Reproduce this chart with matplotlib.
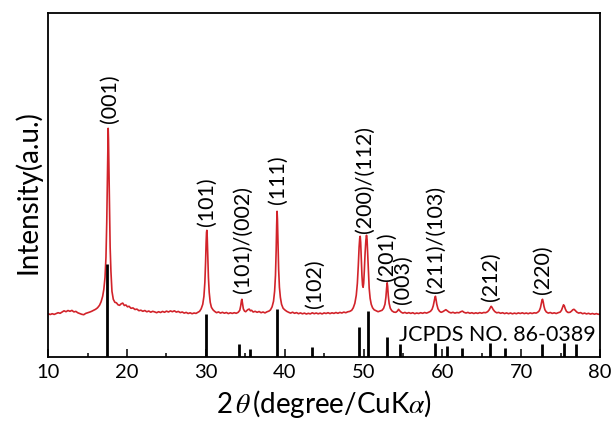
import matplotlib
matplotlib.use("Agg")
import matplotlib.pyplot as plt
from matplotlib.ticker import MultipleLocator

plt.rcParams['font.family'] = ['Lato', 'DejaVu Sans']
plt.rcParams['mathtext.fontset'] = 'stix'

# ---------------- data ----------------
two_theta = [
    10.00, 10.25, 10.50, 10.75, 11.00, 11.25, 11.50, 11.75, 12.00, 12.25,
    12.50, 12.75, 13.00, 13.25, 13.50, 13.75, 14.00, 14.25, 14.50, 14.75,
    15.00, 15.25, 15.50, 15.75,
    16.00, 16.25, 16.50, 16.70, 16.90, 17.05, 17.20, 17.32, 17.42, 17.50,
    17.56, 17.60, 17.64, 17.70, 17.77, 17.85, 17.95, 18.08, 18.25, 18.45,
    18.65, 18.85, 19.05, 19.25, 19.45, 19.65, 19.85, 20.05, 20.25, 20.50,
    20.75, 21.00, 21.25, 21.50, 21.75,
    22.00, 22.25, 22.50, 22.75, 23.00, 23.25, 23.50, 23.75, 24.00, 24.25,
    24.50, 24.75, 25.00, 25.25, 25.50, 25.75, 26.00, 26.25, 26.50, 26.75,
    27.00, 27.25, 27.50, 27.75, 28.00, 28.25, 28.50, 28.75, 29.00,
    29.20, 29.40, 29.60, 29.75, 29.87, 29.96, 30.03, 30.08, 30.12, 30.17,
    30.24, 30.32, 30.42, 30.55, 30.70, 30.90, 31.10,
    31.35, 31.60, 31.85, 32.10, 32.35, 32.60, 32.85, 33.10, 33.35, 33.60,
    33.85, 34.10,
    34.30, 34.42, 34.52, 34.57, 34.64, 34.75, 34.90, 35.05, 35.20, 35.35,
    35.50, 35.65, 35.80, 36.00, 36.25, 36.50, 36.75, 37.00, 37.25, 37.50,
    37.75, 38.00,
    38.20, 38.40, 38.58, 38.72, 38.83, 38.92, 38.98, 39.03, 39.08, 39.15,
    39.23, 39.33, 39.45, 39.60, 39.80, 40.00, 40.25,
    40.50, 40.75, 41.00, 41.25, 41.50, 41.75, 42.00, 42.25, 42.50, 42.75,
    43.00, 43.25, 43.50, 43.75, 44.00, 44.25, 44.50, 44.75, 45.00, 45.25,
    45.50, 45.75, 46.00, 46.25, 46.50, 46.75, 47.00, 47.25, 47.50, 47.75,
    48.00, 48.25,
    48.50, 48.70, 48.90, 49.08, 49.22, 49.34, 49.44, 49.52, 49.58, 49.64,
    49.72, 49.80, 49.88, 49.95, 50.02, 50.10, 50.20, 50.30, 50.38, 50.45,
    50.53, 50.62, 50.72, 50.84, 50.98, 51.15, 51.35, 51.60, 51.85, 52.10,
    52.35, 52.55,
    52.72, 52.84, 52.93, 53.00, 53.06, 53.14, 53.25, 53.40, 53.60, 53.85,
    54.10, 54.30, 54.45, 54.60, 54.80, 55.00,
    55.25, 55.50, 55.75, 56.00, 56.25, 56.50, 56.75, 57.00, 57.25, 57.50,
    57.75, 58.00, 58.25, 58.50,
    58.70, 58.85, 58.97, 59.07, 59.13, 59.20, 59.30, 59.45, 59.65, 59.85,
    60.05, 60.25, 60.45, 60.65, 60.85, 61.10, 61.35, 61.60, 61.85, 62.10,
    62.35, 62.55, 62.75, 63.00, 63.25, 63.50, 63.75, 64.00, 64.25, 64.50,
    64.75, 65.00, 65.25, 65.50, 65.75, 65.95, 66.10, 66.20, 66.30, 66.45,
    66.65, 66.90, 67.15, 67.40, 67.65, 67.90, 68.15, 68.40, 68.65, 68.90,
    69.15, 69.40, 69.65, 69.90, 70.15, 70.40, 70.65, 70.90, 71.15, 71.40,
    71.65, 71.90, 72.10, 72.30, 72.45, 72.57, 72.66, 72.72, 72.80, 72.90,
    73.02, 73.20, 73.45, 73.70, 73.95, 74.20, 74.45, 74.70, 74.95, 75.12,
    75.27, 75.38, 75.48, 75.60, 75.75, 75.95, 76.20, 76.40, 76.55, 76.70,
    76.85, 77.05, 77.30, 77.55, 77.80, 78.05, 78.30, 78.55, 78.80, 79.05,
    79.30, 79.55, 79.80, 80.00,
]

intensity = [
    43.5, 42.8, 43.6, 42.9, 43.8, 44.6, 44.0, 45.2, 46.5, 45.6,
    46.8, 46.0, 46.9, 45.4, 45.9, 44.5, 43.8, 43.0, 42.6, 43.9,
    44.5, 45.2, 46.0, 47.0,
    48.0, 49.5, 52.0, 55.5, 61.0, 68.0, 80.0, 100.0, 135.0, 180.0,
    215.0, 229.0, 218.0, 185.0, 145.0, 110.0, 86.0, 66.0, 58.0, 55.0,
    54.5, 52.5, 52.0, 53.5, 54.2, 51.8, 52.3, 50.5, 51.0, 49.0,
    49.4, 47.8, 48.2, 46.6, 47.1,
    46.0, 46.8, 45.5, 46.3, 45.1, 46.0, 45.4, 44.6, 45.6, 44.8,
    45.9, 45.0, 46.2, 45.3, 46.4, 45.6, 46.5, 45.2, 45.9, 44.7,
    45.3, 44.2, 44.9, 43.8, 44.5, 43.6, 44.3, 43.9, 45.0,
    46.0, 48.5, 53.0, 61.0, 75.0, 95.0, 115.0, 125.0, 127.0, 120.0,
    100.0, 80.0, 65.0, 55.0, 50.0, 47.5, 46.0,
    44.6, 45.4, 44.2, 45.0, 44.1, 44.8, 43.7, 44.5, 43.9, 44.6,
    44.0, 45.0,
    47.0, 51.5, 57.0, 58.0, 54.0, 48.5, 46.2, 45.6, 46.8, 47.8,
    48.2, 46.5, 47.0, 45.3, 46.0, 45.0, 45.8, 44.6, 45.3, 44.4,
    45.5, 46.2,
    47.5, 50.5, 56.0, 66.0, 82.0, 108.0, 132.0, 146.0, 138.0, 113.0,
    88.0, 70.0, 60.0, 53.0, 49.0, 47.5, 46.0,
    45.0, 44.2, 45.1, 44.0, 44.7, 43.6, 44.4, 43.5, 44.2, 43.3,
    44.0, 43.4, 44.5, 43.6, 44.3, 43.5, 44.2, 43.4, 44.4, 43.8,
    44.6, 43.7, 44.5, 43.9, 44.8, 44.0, 44.9, 44.3, 45.2, 44.6,
    45.5, 45.9,
    47.0, 49.5, 54.0, 62.0, 74.0, 92.0, 110.0, 119.0, 121.0, 115.0,
    98.0, 82.0, 72.0, 70.0, 74.0, 86.0, 104.0, 117.0, 122.0, 118.0,
    103.0, 85.0, 69.0, 59.0, 53.0, 49.5, 47.5, 46.5, 45.6, 46.3,
    47.0, 49.0,
    53.0, 60.0, 69.0, 74.5, 71.0, 62.0, 54.0, 49.0, 46.5, 45.2,
    45.0, 46.2, 48.0, 46.5, 45.0, 44.2,
    44.9, 44.0, 44.7, 43.9, 44.6, 43.6, 44.3, 43.8, 44.6, 44.0,
    44.8, 44.2, 45.0, 46.0,
    48.0, 51.5, 56.0, 60.0, 61.0, 58.0, 53.0, 48.5, 46.0, 45.0,
    45.6, 46.6, 47.6, 46.4, 45.2, 44.4, 45.0, 44.2, 44.8, 44.5,
    45.6, 46.2, 45.0, 44.3, 44.9, 44.0, 44.6, 43.8, 44.5, 43.9,
    44.7, 44.1, 44.8, 44.6, 45.6, 47.5, 49.8, 51.0, 50.0, 47.8,
    45.8, 44.5, 44.9, 44.0, 44.6, 43.7, 44.4, 43.6, 44.3, 43.5,
    44.2, 43.6, 44.4, 43.8, 44.5, 43.7, 44.3, 43.6, 44.4, 43.8,
    44.5, 44.2, 45.0, 46.5, 49.5, 54.0, 57.5, 58.0, 55.5, 51.0,
    47.5, 45.3, 44.2, 44.8, 43.9, 44.5, 43.8, 44.6, 45.2, 47.0,
    50.0, 52.5, 51.5, 48.5, 46.0, 44.8, 45.0, 46.2, 47.5, 48.0,
    47.0, 45.3, 44.2, 44.7, 43.6, 44.2, 43.4, 44.0, 43.2, 43.8,
    43.1, 43.7, 43.0, 43.4,
]

# JCPDS No. 86-0389 reference pattern
ref_two_theta = [17.50, 30.05, 34.18, 35.66, 39.03, 43.50, 49.45, 50.55,
                 53.04, 54.60, 59.08, 60.56, 62.53, 66.00, 68.00, 72.60,
                 75.50, 76.90]
ref_intensity = [93.7, 43.3, 13.0, 8.3, 48.3, 10.0, 30.0, 46.6,
                 20.6, 13.0, 14.6, 11.0, 9.0, 14.6, 9.0, 13.0,
                 14.0, 13.0]

# Miller-index annotations
peak_labels = ['(001)', '(101)', '(101)/(002)', '(111)', '(102)',
               '(200)/(112)', '(201)', '(003)', '(211)/(103)', '(212)', '(220)']
label_x = [17.85, 30.08, 34.64, 39.10, 43.80, 50.20, 52.90, 55.05, 59.18, 66.12, 72.82]
label_y = [234.3, 131.3, 64.8, 152.9, 49.8, 124.6, 76.4, 53.2, 64.8, 56.5, 63.1]

ref_card = 'JCPDS NO. 86-0389'
x_label = r'2$\,\theta\,$(degree/CuK$\alpha$)'
y_label = 'Intensity(a.u.)'

# ---------------- figure ----------------
fig = plt.figure(figsize=(6.15, 4.23), dpi=100)
ax = fig.add_axes([0.0785, 0.1553, 0.897, 0.8147])

ax.plot(two_theta, intensity, color='#d2232a', lw=1.2, zorder=2)
ax.vlines(ref_two_theta, 0, ref_intensity, color='black', lw=2.0, zorder=3)

for t, x, y in zip(peak_labels, label_x, label_y):
    ax.text(x, y, t, rotation=90, ha='center', va='bottom', fontsize=15.5)

ax.text(79.5, 16.6, ref_card, ha='right', va='baseline', fontsize=15.5)

ax.set_xlim(10, 80)
ax.set_ylim(0, 344.6)
ax.xaxis.set_major_locator(MultipleLocator(10))
ax.xaxis.set_minor_locator(MultipleLocator(5))
ax.tick_params(axis='x', which='major', direction='in', length=5.8, width=1.1,
               labelsize=14.5, pad=5)
ax.tick_params(axis='x', which='minor', direction='in', length=2.9, width=1.1)
ax.set_yticks([])
for s in ax.spines.values():
    s.set_linewidth(1.3)

ax.set_xlabel(x_label, fontsize=20, labelpad=5)
ax.set_ylabel(y_label, fontsize=20)
ax.yaxis.set_label_coords(-0.013, 0.48)

fig.savefig('out.png', dpi=100)
